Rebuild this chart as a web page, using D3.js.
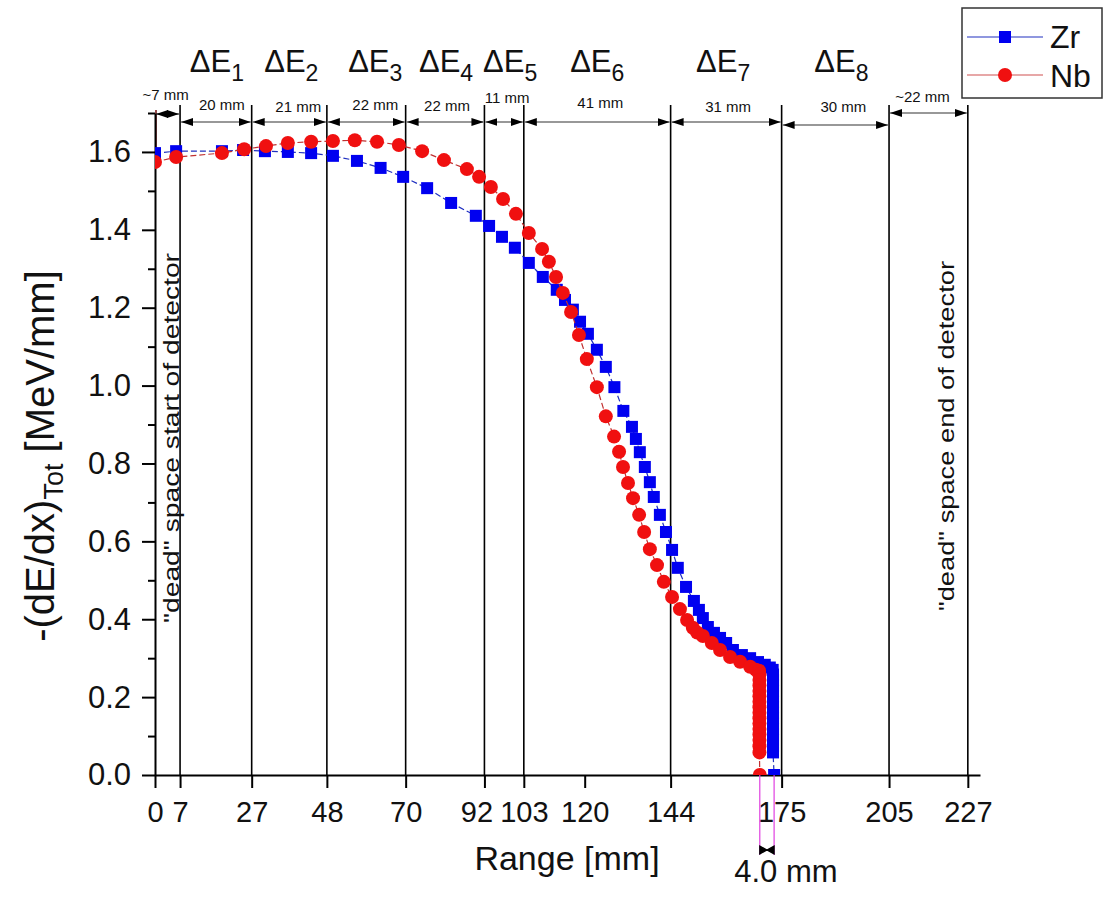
<!DOCTYPE html>
<html>
<head>
<meta charset="utf-8">
<script src="https://cdn.jsdelivr.net/npm/d3@7"></script>
<style>
  body { margin: 0; background: #fff; }
  svg { font-family: Arial, "Liberation Sans", sans-serif; }
</style>
</head>
<body>
<svg id="chart" width="1108" height="897"></svg>
<script>
// ---- data ----
var xTicks = [0, 7, 27, 48, 70, 92, 103, 120, 144, 175, 205, 227];
var yMajor = [0, 0.2, 0.4, 0.6, 0.8, 1.0, 1.2, 1.4, 1.6];
var yMinor = [0.1, 0.3, 0.5, 0.7, 0.9, 1.1, 1.3, 1.5, 1.7];
var boundaries = [7, 27, 48, 70, 92, 103, 144, 175, 205, 227];
var segStart = [0, 7, 27, 48, 70, 92, 103, 144, 175, 205];
var segEnd = [7, 27, 48, 70, 92, 103, 144, 175, 205, 227];
var segLabels = ['~7 mm', '20 mm', '21 mm', '22 mm', '22 mm', '11 mm', '41 mm', '31 mm', '30 mm', '~22 mm'];
var detNames = ['1', '2', '3', '4', '5', '6', '7', '8'];

var zrRange = [0, 5.9, 18.7, 24.6, 30.7, 37.1, 43.6, 49.7, 56.4, 63.0, 69.3, 76.0, 82.7, 89.6, 93.3, 96.9,
  100.5, 104.4, 108.3, 112.2, 114.5, 116.7, 118.7, 120.9, 123.4, 125.9, 128.3, 130.8, 133.2, 134.3, 135.4,
  136.8, 138.2, 139.3, 141.0, 142.7, 144.4, 146.0, 148.3, 150.5, 151.9, 153.0, 154.4, 156.1, 157.8, 159.5,
  161.4, 163.9, 166.2, 168.4, 170.3, 171.7, 172.5,
  172.6, 172.6, 172.6, 172.6, 172.6, 172.6, 172.6, 172.6, 172.6, 172.6, 172.6, 172.6, 172.6, 172.6, 172.6,
  172.9];
var zrDedx = [1.597, 1.602, 1.602, 1.605, 1.602, 1.600, 1.597, 1.590, 1.577, 1.559, 1.536, 1.507, 1.469, 1.436, 1.410, 1.382,
  1.354, 1.315, 1.279, 1.246, 1.220, 1.195, 1.164, 1.133, 1.092, 1.048, 0.996, 0.935, 0.894, 0.863, 0.829,
  0.791, 0.752, 0.714, 0.668, 0.624, 0.578, 0.532, 0.483, 0.447, 0.424, 0.403, 0.380, 0.365, 0.352, 0.339,
  0.321, 0.308, 0.300, 0.290, 0.283, 0.276, 0.270,
  0.258, 0.244, 0.230, 0.216, 0.202, 0.188, 0.174, 0.160, 0.146, 0.132, 0.118, 0.104, 0.090, 0.074, 0.058,
  0.0];

var nbRange = [0, 5.9, 18.7, 24.9, 31.0, 37.1, 43.6, 49.7, 55.8, 62.0, 68.1, 74.6, 80.7, 87.1, 90.5, 93.8,
  97.2, 100.8, 104.4, 108.1, 110.0, 112.0, 113.9, 116.2, 118.4, 120.6, 123.4, 125.9, 128.2, 129.6, 130.7,
  132.1, 133.5, 135.2, 136.6, 138.2, 140.2, 142.1, 144.4, 146.6, 148.6, 150.2, 151.4, 153.0, 155.5, 157.8,
  160.6, 163.4, 166.2, 167.8, 168.7,
  168.8, 168.8, 168.8, 168.8, 168.8, 168.8, 168.8, 168.8, 168.8, 168.8, 168.8, 168.8, 168.8, 168.8, 168.8,
  168.9];
var nbDedx = [1.574, 1.587, 1.597, 1.607, 1.615, 1.623, 1.626, 1.628, 1.630, 1.626, 1.618, 1.602, 1.579, 1.556, 1.536, 1.510,
  1.479, 1.441, 1.392, 1.351, 1.318, 1.279, 1.238, 1.189, 1.130, 1.068, 0.996, 0.921, 0.869, 0.830, 0.791,
  0.750, 0.711, 0.668, 0.624, 0.580, 0.539, 0.496, 0.457, 0.426, 0.398, 0.378, 0.366, 0.357, 0.339, 0.321,
  0.303, 0.291, 0.278, 0.270, 0.268,
  0.258, 0.244, 0.230, 0.216, 0.202, 0.188, 0.174, 0.160, 0.146, 0.132, 0.118, 0.104, 0.090, 0.074, 0.058,
  0.0];

var nbEnd = 168.9, zrEnd = 172.9, gapLabel = '4.0 mm';

// ---- drawing ----
var svg = d3.select('#chart');
var x = d3.scaleLinear().domain([0, 230.4]).range([155, 980]);
var y = d3.scaleLinear().domain([0, 1.7]).range([775, 113]);

var defs = svg.append('defs');
defs.append('marker')
  .attr('id', 'arr').attr('viewBox', '0 0 12 8')
  .attr('refX', 12).attr('refY', 4)
  .attr('markerWidth', 12).attr('markerHeight', 8)
  .attr('markerUnits', 'userSpaceOnUse')
  .attr('orient', 'auto-start-reverse')
  .append('path').attr('d', 'M0,0L12,4L0,8Z').attr('fill', '#000');
defs.append('clipPath').attr('id', 'plotclip')
  .append('rect').attr('x', x(0)).attr('y', 100)
  .attr('width', x(230.4) - x(0)).attr('height', y(0) - 100);

// detector boundary lines
svg.append('g').selectAll('line').data(boundaries).enter().append('line')
  .attr('x1', d => x(d)).attr('x2', d => x(d))
  .attr('y1', y(0)).attr('y2', 105)
  .attr('stroke', '#000').attr('stroke-width', 1.6);
svg.append('line').attr('x1', x(0) + 1).attr('x2', x(0) + 1)
  .attr('y1', 110).attr('y2', 160).attr('stroke', '#7a1f1f').attr('stroke-width', 1.6);

// dimension arrows
var arrowY = [114, 122, 122, 122, 122, 122, 122, 122, 125, 113];
var labelY = [100, 110, 112, 110, 111, 103, 108, 112, 112, 102];
var labelDx = [-2, 6, 9, 9, 2, 3, 3, 2, 8, -6];
var dims = svg.append('g');
segStart.forEach(function (s, i) {
  dims.append('line')
    .attr('x1', x(s) + 1).attr('x2', x(segEnd[i]) - 1)
    .attr('y1', arrowY[i]).attr('y2', arrowY[i])
    .attr('stroke', '#333').attr('stroke-width', 1.2)
    .attr('marker-start', 'url(#arr)').attr('marker-end', 'url(#arr)');
  dims.append('text')
    .attr('x', (x(s) + x(segEnd[i])) / 2 + labelDx[i]).attr('y', labelY[i])
    .attr('text-anchor', 'middle').attr('font-size', 15).attr('fill', '#111')
    .text(segLabels[i]);
});

// ΔE labels
var detDx = [1, 2, 9, 1, 6, 0, -3, 6];
detNames.forEach(function (n, i) {
  var t = svg.append('text')
    .attr('x', (x(segStart[i + 1]) + x(segEnd[i + 1])) / 2 + detDx[i]).attr('y', 72)
    .attr('text-anchor', 'middle').attr('font-size', 31).attr('fill', '#111');
  t.append('tspan').text('\u0394E');
  t.append('tspan').attr('font-size', 23).attr('dy', 9).text(n);
});

// axes
var xAxis = svg.append('g').attr('transform', 'translate(0,' + y(0) + ')')
  .call(d3.axisBottom(x).tickValues(xTicks).tickFormat(d3.format('d')).tickSize(13).tickSizeOuter(0).tickPadding(13));
var yAxis = svg.append('g').attr('transform', 'translate(' + x(0) + ',0)')
  .call(d3.axisLeft(y).tickValues(yMajor).tickFormat(d3.format('.1f')).tickSize(13).tickSizeOuter(0).tickPadding(11));
svg.append('g').attr('transform', 'translate(' + x(0) + ',0)')
  .call(d3.axisLeft(y).tickValues(yMinor).tickFormat('').tickSize(7).tickSizeOuter(0))
  .select('.domain').remove();
svg.selectAll('.domain').attr('stroke-width', 2);
svg.selectAll('.tick line').attr('stroke-width', 2);
xAxis.selectAll('text').attr('font-size', 29).attr('fill', '#111').attr('font-family', 'Arial, "Liberation Sans", sans-serif')
  .attr('dx', d => d === 92 ? -8 : 0);
yAxis.selectAll('text').attr('font-size', 31).attr('fill', '#111').attr('font-family', 'Arial, "Liberation Sans", sans-serif');

// axis titles
svg.append('text').attr('x', 567).attr('y', 870).attr('text-anchor', 'middle')
  .attr('font-size', 34).attr('fill', '#111').text('Range [mm]');
var yl = svg.append('text').attr('transform', 'translate(54,456) rotate(-90)')
  .attr('text-anchor', 'middle').attr('font-size', 40).attr('fill', '#111');
yl.append('tspan').text('-(dE/dx)');
yl.append('tspan').attr('font-size', 27).attr('dy', 9).text('Tot');
yl.append('tspan').attr('dy', -9).text(' [MeV/mm]');

// dead space notes
[['"dead" space start of detector', 179, 438, 370], ['"dead" space end of detector', 954, 436, 350]].forEach(function (d) {
  svg.append('text').attr('transform', 'translate(' + d[1] + ',' + d[2] + ') rotate(-90)')
    .attr('text-anchor', 'middle').attr('font-size', 22).attr('fill', '#111')
    .attr('textLength', d[3]).attr('lengthAdjust', 'spacingAndGlyphs')
    .text(d[0]);
});

// data series
function pts(xs, ys) { return xs.map(function (v, i) { return [v, ys[i]]; }); }
var zr = pts(zrRange, zrDedx), nb = pts(nbRange, nbDedx);
var line = d3.line().x(d => x(d[0])).y(d => y(d[1]));
var plot = svg.append('g').attr('clip-path', 'url(#plotclip)');

plot.append('path').attr('d', line(zr)).attr('fill', 'none')
  .attr('stroke', '#2030c0').attr('stroke-width', 1.2).attr('stroke-dasharray', '6,3');
plot.selectAll('rect.zr').data(zr).enter().append('rect').attr('class', 'zr')
  .attr('x', d => x(d[0]) - 6).attr('y', d => y(d[1]) - 6)
  .attr('width', 12).attr('height', 12).attr('fill', '#0000f0');

plot.append('path').attr('d', line(nb)).attr('fill', 'none')
  .attr('stroke', '#c03030').attr('stroke-width', 1.2).attr('stroke-dasharray', '6,3');
plot.selectAll('circle.nb').data(nb).enter().append('circle').attr('class', 'nb')
  .attr('cx', d => x(d[0])).attr('cy', d => y(d[1])).attr('r', 7).attr('fill', '#f01010');

// 4.0 mm gap annotation
[nbEnd, zrEnd].forEach(function (v) {
  svg.append('line').attr('x1', x(v)).attr('x2', x(v))
    .attr('y1', y(0)).attr('y2', 855).attr('stroke', '#e040e0').attr('stroke-width', 1.2);
});
var ax0 = x(nbEnd), ax1 = x(zrEnd), am = (ax0 + ax1) / 2;
svg.append('path')
  .attr('d', 'M' + ax0 + ',846L' + am + ',850L' + ax0 + ',854Z M' + ax1 + ',846L' + am + ',850L' + ax1 + ',854Z M' + ax0 + ',850L' + ax1 + ',850')
  .attr('fill', '#000').attr('stroke', '#000').attr('stroke-width', 1.2);
svg.append('text').attr('x', am + 19).attr('y', 882).attr('text-anchor', 'middle')
  .attr('font-size', 31).attr('fill', '#111').text(gapLabel);

// legend
var lg = svg.append('g');
lg.append('rect').attr('x', 962).attr('y', 8).attr('width', 140).attr('height', 90)
  .attr('fill', '#fff').attr('stroke', '#333').attr('stroke-width', 1.5);
lg.append('line').attr('x1', 967).attr('x2', 1043).attr('y1', 37).attr('y2', 37)
  .attr('stroke', '#2030c0').attr('stroke-width', 1.2);
lg.append('rect').attr('x', 1005 - 6).attr('y', 37 - 6).attr('width', 12).attr('height', 12).attr('fill', '#0000f0');
lg.append('text').attr('x', 1050).attr('y', 48).attr('font-size', 32).attr('fill', '#111').text('Zr');
lg.append('line').attr('x1', 967).attr('x2', 1043).attr('y1', 75).attr('y2', 75)
  .attr('stroke', '#d05050').attr('stroke-width', 1.2);
lg.append('circle').attr('cx', 1005).attr('cy', 75).attr('r', 7).attr('fill', '#f01010');
lg.append('text').attr('x', 1050).attr('y', 87).attr('font-size', 32).attr('fill', '#111').text('Nb');
</script>
</body>
</html>
